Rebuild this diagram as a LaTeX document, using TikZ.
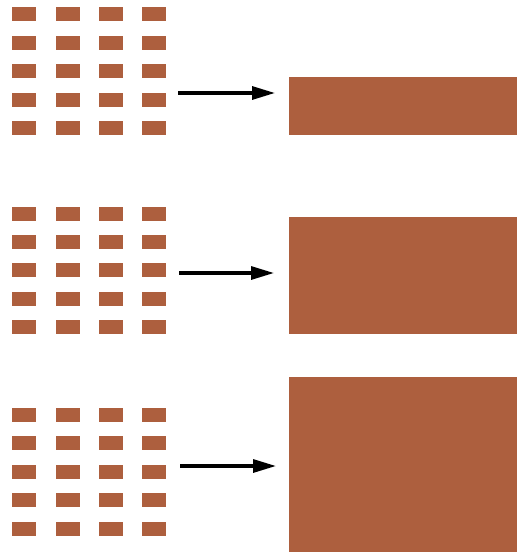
\documentclass[tikz,border=0pt]{standalone}
\usetikzlibrary{arrows.meta}
\definecolor{brick}{RGB}{173,95,62}
\tikzset{
  cell/.style={fill=brick, draw=none, minimum width=24pt, minimum height=14pt, inner sep=0pt, outer sep=0pt, anchor=north west},
  slab/.style={fill=brick, draw=none, inner sep=0pt, outer sep=0pt, anchor=north west, minimum width=228pt},
  flow/.style={line width=3.2pt, -{Triangle[length=23pt,width=13pt]}}
}
\begin{document}
\begin{tikzpicture}[x=1pt,y=-1pt]
\useasboundingbox (0,0) rectangle (517,552);
% grids: column x positions and row top positions
\foreach \g/\ya/\yb/\yc/\yd/\ye in {1/7/36/64/93/121, 2/207/235/263/292/320, 3/408/436/465/493/522}{
  \foreach \r/\y in {1/\ya,2/\yb,3/\yc,4/\yd,5/\ye}{
    \foreach \c/\x in {1/12,2/56,3/99,4/142}{
      \node[cell] (g\g-\r-\c) at (\x,\y) {};
    }
  }
}
% large slabs
\node[slab, minimum height=58pt] (s1) at (289,77) {};
\node[slab, minimum height=117pt] (s2) at (289,217) {};
\node[slab, minimum height=175pt] (s3) at (289,377) {};
% arrow end points
\coordinate (a1s) at (178,93);
\coordinate (a1e) at (275,93);
\coordinate (a2s) at (179,273);
\coordinate (a2e) at (274,273);
\coordinate (a3s) at (180,466);
\coordinate (a3e) at (276,466);
\draw[flow] (a1s) -- (a1e);
\draw[flow] (a2s) -- (a2e);
\draw[flow] (a3s) -- (a3e);
\end{tikzpicture}
\end{document}
